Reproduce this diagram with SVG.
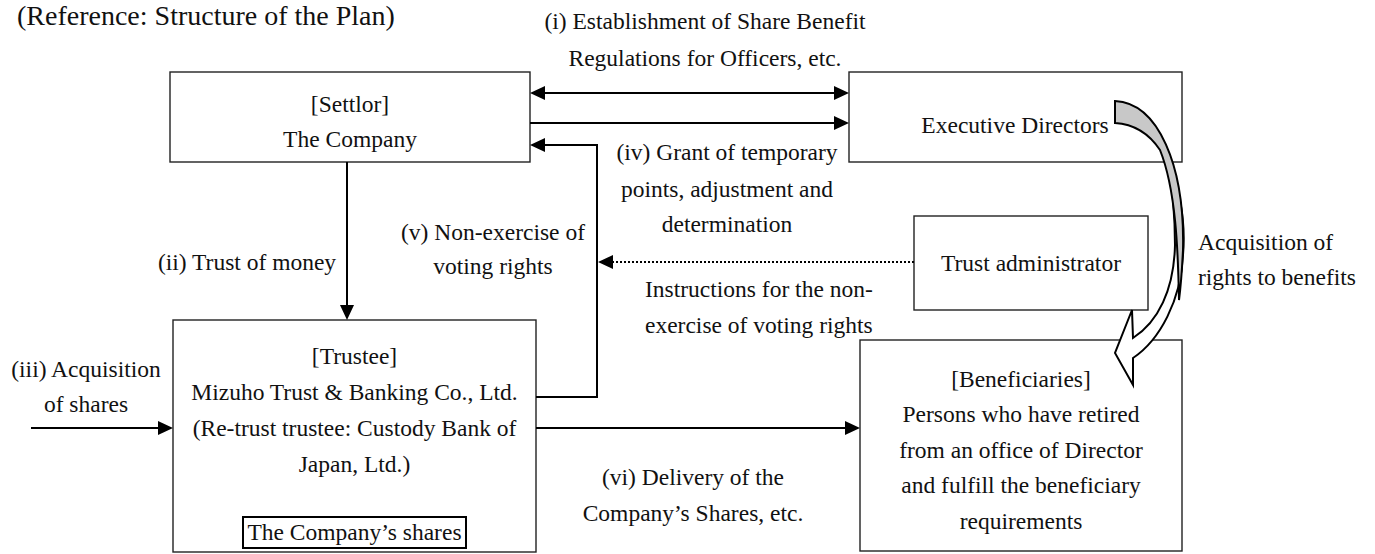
<svg xmlns="http://www.w3.org/2000/svg" width="1375" height="554" viewBox="0 0 1375 554">
<style>
text{font-family:"Liberation Serif","Times New Roman",serif;font-size:23.5px;fill:#111}
.c{text-anchor:middle}
.box{fill:#fff;stroke:#222;stroke-width:1.4}
.ln{fill:none;stroke:#000;stroke-width:2}
.dot{fill:none;stroke:#000;stroke-width:2;stroke-dasharray:2 2}
.rib{stroke:#000;stroke-width:2;stroke-linejoin:miter}
</style>
<defs>
<marker id="ah" markerUnits="userSpaceOnUse" markerWidth="16" markerHeight="16" refX="13" refY="7" orient="auto-start-reverse">
<path d="M0,0 L15,7 L0,14 Z" fill="#000"/>
</marker>
</defs>
<rect width="1375" height="554" fill="#fff"/>
<text x="17" y="25" style="font-size:28px">(Reference: Structure of the Plan)</text>

<g id="label-i">
<text class="c" x="705" y="29">(i) Establishment of Share Benefit</text>
<text class="c" x="705" y="66">Regulations for Officers, etc.</text>
</g>
<g id="label-iv">
<text class="c" x="727" y="160">(iv) Grant of temporary</text>
<text class="c" x="727" y="197">points, adjustment and</text>
<text class="c" x="727" y="232">determination</text>
</g>
<g id="label-ii"><text class="c" x="247" y="270">(ii) Trust of money</text></g>
<g id="label-v">
<text class="c" x="493" y="240">(v) Non-exercise of</text>
<text class="c" x="493" y="274">voting rights</text>
</g>
<g id="label-instr">
<text x="645" y="297">Instructions for the non-</text>
<text x="645" y="333">exercise of voting rights</text>
</g>
<g id="label-acq">
<text x="1198" y="250">Acquisition of</text>
<text x="1198" y="285">rights to benefits</text>
</g>
<g id="label-iii">
<text class="c" x="86" y="377">(iii) Acquisition</text>
<text class="c" x="86" y="412">of shares</text>
</g>
<g id="label-vi">
<text class="c" x="693" y="485">(vi) Delivery of the</text>
<text class="c" x="693" y="521">Company’s Shares, etc.</text>
</g>

<g id="settlor">
<rect class="box" x="170" y="72" width="360" height="90"/>
<text class="c" x="350" y="112">[Settlor]</text>
<text class="c" x="350" y="147">The Company</text>
</g>
<g id="executive-directors">
<rect class="box" x="849" y="72" width="333" height="90"/>
<text class="c" x="1015" y="133">Executive Directors</text>
</g>
<g id="trust-administrator">
<rect class="box" x="914" y="216" width="234" height="94"/>
<text class="c" x="1031" y="271">Trust administrator</text>
</g>
<g id="trustee">
<rect class="box" x="173" y="320" width="363" height="232"/>
<text class="c" x="354.5" y="364">[Trustee]</text>
<text class="c" x="354.5" y="400">Mizuho Trust &amp; Banking Co., Ltd.</text>
<text class="c" x="354.5" y="436">(Re-trust trustee: Custody Bank of</text>
<text class="c" x="354.5" y="472">Japan, Ltd.)</text>
<rect x="243" y="517" width="223" height="31" fill="#fff" stroke="#000" stroke-width="2"/>
<text class="c" x="354.5" y="540">The Company’s shares</text>
</g>
<g id="beneficiaries">
<rect class="box" x="860" y="340" width="322" height="211"/>
<text class="c" x="1021" y="387">[Beneficiaries]</text>
<text class="c" x="1021" y="422">Persons who have retired</text>
<text class="c" x="1021" y="458">from an office of Director</text>
<text class="c" x="1021" y="493">and fulfill the beneficiary</text>
<text class="c" x="1021" y="529">requirements</text>
</g>

<g id="connectors">
<line class="ln" x1="532" y1="93" x2="847" y2="93" marker-start="url(#ah)" marker-end="url(#ah)"/>
<line class="ln" x1="530" y1="123" x2="847" y2="123" marker-end="url(#ah)"/>
<polyline class="ln" points="536,397 597,397 597,145 532,145" marker-end="url(#ah)"/>
<line class="dot" x1="914" y1="262" x2="600" y2="262" marker-end="url(#ah)"/>
<line class="ln" x1="347" y1="162" x2="347" y2="318" marker-end="url(#ah)"/>
<line class="ln" x1="31" y1="428" x2="171" y2="428" marker-end="url(#ah)"/>
<line class="ln" x1="536" y1="428" x2="858" y2="428" marker-end="url(#ah)"/>
<g id="curved-arrow">
<path class="rib" fill="#fff" d="M1168,160 C1180,190 1186,220 1183,255 C1181,300 1160,340 1133,358 L1133,385 L1115,353 L1132,310 L1133,338 C1158,322 1174,290 1175,245 C1175,210 1172,185 1168,160 Z"/>
<path class="rib" fill="#c8c8c8" d="M1115,101 C1158,103 1185,165 1183,250 C1182,270 1181,285 1179,300 C1178,250 1176,190 1160,150 C1148,132 1132,124 1115,123 Z"/>
</g>
</g>
</svg>
